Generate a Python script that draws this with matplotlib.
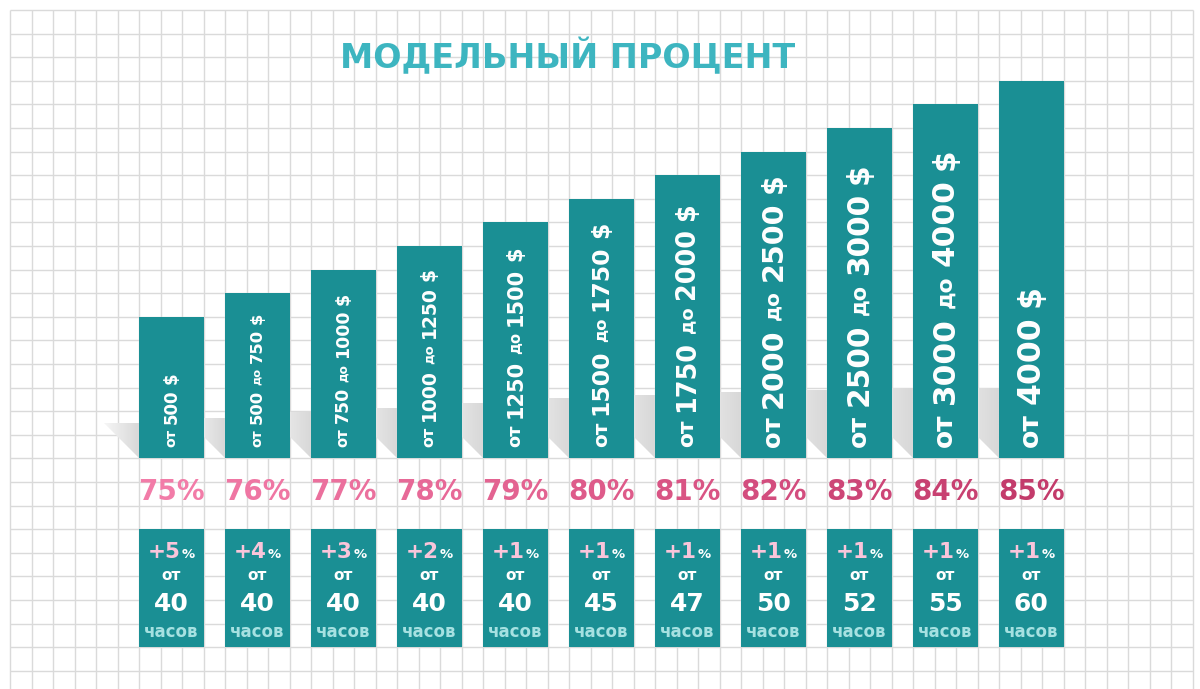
import numpy as np
import matplotlib.pyplot as plt
from matplotlib.patches import Polygon
from matplotlib.colors import LinearSegmentedColormap

# tiers of the "model percent"
lo = ["500", "500", "750", "1000", "1250", "1500", "1750", "2000", "2500", "3000", "4000"]
hi = [None, "750", "1000", "1250", "1500", "1750", "2000", "2500", "3000", "4000", None]
steps = [6, 7, 8, 9, 10, 11, 12, 13, 14, 15, 16]       # bar height in grid cells
percent = [75, 76, 77, 78, 79, 80, 81, 82, 83, 84, 85]
bonus = [5, 4, 3, 2, 1, 1, 1, 1, 1, 1, 1]
hours = [40, 40, 40, 40, 40, 45, 47, 50, 52, 55, 60]

pct_colors = ["#f27ca8", "#ef76a3", "#eb709d", "#e76997", "#e36391", "#de5b8a",
              "#d95484", "#d34d7e", "#cd4677", "#c84171", "#c33b6b"]
label_sizes = [12, 11.8, 12.5, 13.5, 15, 16.9, 18.4, 20.5, 21.3, 22.4, 22.7]
shadow_px = [35, 40, 46, 50, 55, 60, 63, 66, 68, 70, 70]

teal = "#1a8f94"
title_col = "#3db5c0"
grid_col = "#dadada"

plt.rcParams['font.family'] = ['DejaVu Sans']

W, H = 1200, 689
cw, rh = 21.5, 23.6      # grid cell size in px
x0, y0 = 10, 458.4       # px of first grid column / bar baseline

fig = plt.figure(figsize=(12, 6.89), dpi=100)
ax = fig.add_axes([0, 0, 1, 1])
ax.axis('off')

# squared paper
ax.vlines(np.arange(0, 56), (y0 - H) / rh, 19, color=grid_col, lw=1.0, zorder=0)
ax.hlines(np.arange(-9, 20), 0, 55, color=grid_col, lw=1.0, zorder=0)

n = len(steps)
centers = 7.5 + 4 * np.arange(n)

# soft shadows behind the bars
shade = LinearSegmentedColormap.from_list("shade", ["#f6f6f6", "#d8d8d8"])
grad = np.linspace(0, 1, 64).reshape(1, -1)
for c, s in zip(centers, shadow_px):
    left = c - 1.5
    sx, sy = s / cw, s / rh
    tri = Polygon([(left - sx, sy), (left, sy), (left, 0)], closed=True,
                  transform=ax.transData, facecolor="none", edgecolor="none")
    ax.add_patch(tri)
    im = ax.imshow(grad, extent=[left - sx, left, 0, sy], cmap=shade,
                   aspect='auto', zorder=1, interpolation='bilinear')
    im.set_clip_path(tri)

ax.bar(centers, steps, width=3, color=teal, zorder=3)
ax.bar(centers, 5, width=3, bottom=-8, color=teal, zorder=3)

ax.set_xlim(-x0 / cw, (W - x0) / cw)
ax.set_ylim((y0 - H) / rh, y0 / rh)

ax.text((568 - x0) / cw, (y0 - 57) / rh, "МОДЕЛЬНЫЙ ПРОЦЕНТ", ha='center', va='center',
        fontsize=24, fontweight='bold', color=title_col)

fig.canvas.draw()
r = fig.canvas.get_renderer()

# vertical labels inside bars
for i in range(n):
    size = label_sizes[i]
    pieces = [("от", size * 0.85), (lo[i], size)]
    if hi[i] is not None:
        pieces += [("до", size * 0.7), (hi[i], size)]
    pieces += [("$", size)]
    y = (y0 - 447) / rh
    for txt, fs in pieces:
        t = ax.text(centers[i], y, txt, rotation=90, rotation_mode='anchor',
                    ha='left', va='center', fontsize=fs, fontweight='bold',
                    color='white', zorder=4)
        h = t.get_window_extent(r).height
        y += (h + 0.3 * size * 100 / 72) / rh

# percentages
for i in range(n):
    ax.text(centers[i], (y0 - 492) / rh, f"{percent[i]}%", ha='center', va='center',
            fontsize=20, fontweight='bold', color=pct_colors[i], zorder=4)

# boxes below
for i in range(n):
    c = centers[i]
    t1 = ax.text(c, (y0 - 558) / rh, f"+{bonus[i]}", ha='left', va='baseline',
                 fontsize=15.5, fontweight='bold', color="#f9c5da", zorder=4)
    t2 = ax.text(c, (y0 - 558) / rh, "%", ha='left', va='baseline',
                 fontsize=9.5, fontweight='bold', color="white", zorder=4)
    w1 = t1.get_window_extent(r).width
    w2 = t2.get_window_extent(r).width
    start = c - (w1 + w2 + 1) / 2 / cw
    t1.set_x(start)
    t2.set_x(start + (w1 + 1) / cw)
    ax.text(c, (y0 - 575) / rh, "от", ha='center', va='center', fontsize=11,
            fontweight='bold', color='white', zorder=4)
    ax.text(c, (y0 - 604) / rh, str(hours[i]), ha='center', va='center', fontsize=18,
            fontweight='bold', color='white', zorder=4)
    ax.text(c, (y0 - 632) / rh, "часов", ha='center', va='center', fontsize=12,
            fontweight='bold', color='#a6e1e1', zorder=4)

fig.savefig("out.png", dpi=100, facecolor='white')
